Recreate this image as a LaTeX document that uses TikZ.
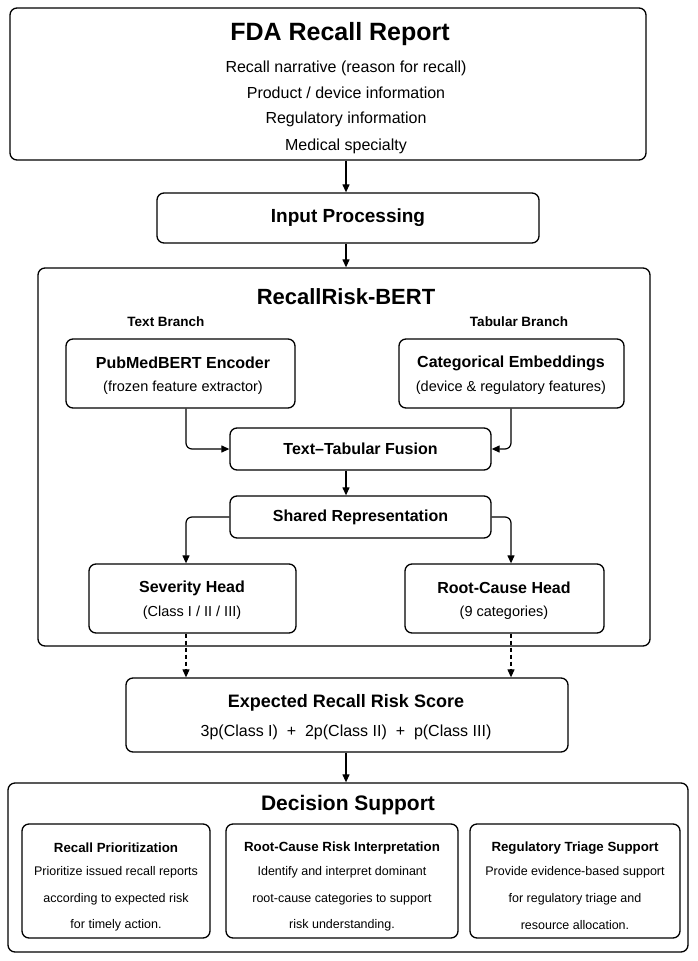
\documentclass[tikz,border=0pt]{standalone}
\usepackage{fontspec}
\setmainfont{Liberation Sans}
\usetikzlibrary{arrows.meta}
\begin{document}
\begin{tikzpicture}[x=1pt,y=-1pt,
  bx/.style={draw,line width=1.3pt,rounded corners=7pt},
  lbl/.style={inner sep=0pt,anchor=center},
  arr/.style={line width=1.2pt,-{Triangle[length=8pt,width=7pt]}},
  darr/.style={line width=1.1pt,dashed,dash pattern=on 4pt off 3pt,-{Triangle[length=8pt,width=7pt]}}]
\useasboundingbox (0,0) rectangle (698,961);
% FDA
\node[bx,minimum width=636pt,minimum height=152pt] (fda) at (328,84) {};
\node[lbl,font=\fontsize{25}{28}\selectfont\bfseries] (fdat) at (340,34) {FDA Recall Report};
\node[lbl,font=\fontsize{16}{19}\selectfont] (f1) at (346,68) {Recall narrative (reason for recall)};
\node[lbl,font=\fontsize{16}{19}\selectfont] (f2) at (346,93) {Product / device information};
\node[lbl,font=\fontsize{16}{19}\selectfont] (f3) at (346,119) {Regulatory information};
\node[lbl,font=\fontsize{16}{19}\selectfont] (f4) at (346,146) {Medical specialty};
% Input
\node[bx,minimum width=382pt,minimum height=50pt,font=\fontsize{19}{22}\selectfont\bfseries] (inp) at (348,218) {Input Processing};
% Container
\node[bx,minimum width=612pt,minimum height=378pt] (rb) at (344,457) {};
\node[lbl,font=\fontsize{22}{26}\selectfont\bfseries] (rbt) at (346,297) {RecallRisk-BERT};
\node[lbl,font=\fontsize{13.5}{15}\selectfont\bfseries] (tb) at (166,322) {Text Branch};
\node[lbl,font=\fontsize{13.5}{15}\selectfont\bfseries] (tab) at (519,322) {Tabular Branch};
\node[bx,minimum width=229pt,minimum height=69pt] (pm) at (180.5,373.5) {};
\node[lbl,font=\fontsize{16}{18}\selectfont\bfseries] at (183,363) {PubMedBERT Encoder};
\node[lbl,font=\fontsize{14.5}{16}\selectfont] at (183,388) {(frozen feature extractor)};
\node[bx,minimum width=225pt,minimum height=69pt] (ce) at (511.5,373.5) {};
\node[lbl,font=\fontsize{16}{18}\selectfont\bfseries] at (511,363) {Categorical Embeddings};
\node[lbl,font=\fontsize{14.5}{16}\selectfont] at (511,388) {(device \& regulatory features)};
\node[bx,minimum width=261pt,minimum height=42pt,font=\fontsize{16}{18}\selectfont\bfseries] (fu) at (360.5,449) {Text--Tabular Fusion};
\node[bx,minimum width=261pt,minimum height=42pt,font=\fontsize{16}{18}\selectfont\bfseries] (sh) at (360.5,517) {Shared Representation};
\node[bx,minimum width=207pt,minimum height=69pt] (sv) at (192.5,598.5) {};
\node[lbl,font=\fontsize{16}{18}\selectfont\bfseries] at (192,588) {Severity Head};
\node[lbl,font=\fontsize{14.5}{16}\selectfont] at (192,613) {(Class I / II / III)};
\node[bx,minimum width=199pt,minimum height=69pt] (rc) at (504.5,598.5) {};
\node[lbl,font=\fontsize{16}{18}\selectfont\bfseries] at (504,588) {Root-Cause Head};
\node[lbl,font=\fontsize{14.5}{16}\selectfont] at (504,613) {(9 categories)};
% Expected
\node[bx,minimum width=442pt,minimum height=74pt] (ex) at (347,715) {};
\node[lbl,font=\fontsize{18}{21}\selectfont\bfseries] at (346,703) {Expected Recall Risk Score};
\node[lbl,font=\fontsize{16}{19}\selectfont] at (346,732) {3p(Class I)\ \ +\ \ 2p(Class II)\ \ +\ \ p(Class III)};
% Decision
\node[bx,minimum width=680pt,minimum height=169pt] (ds) at (348,867.5) {};
\node[lbl,font=\fontsize{21}{24}\selectfont\bfseries] at (348,805) {Decision Support};
\node[bx,minimum width=188pt,minimum height=114pt] (d1) at (116,881) {};
\node[bx,minimum width=232pt,minimum height=114pt] (d2) at (342,881) {};
\node[bx,minimum width=210pt,minimum height=114pt] (d3) at (575,881) {};
\foreach \n/\x/\t/\a/\b/\c in {
  d1/116/Recall Prioritization/Prioritize issued recall reports/according to expected risk/for timely action.,
  d2/342/Root-Cause Risk Interpretation/Identify and interpret dominant/root-cause categories to support/risk understanding.,
  d3/575/Regulatory Triage Support/Provide evidence-based support/for regulatory triage and/resource allocation.}{
  \node[lbl,font=\fontsize{13.3}{15}\selectfont\bfseries] at (\x,848) {\t};
  \node[lbl,font=\fontsize{12.5}{14}\selectfont] at (\x,872) {\a};
  \node[lbl,font=\fontsize{12.5}{14}\selectfont] at (\x,899) {\b};
  \node[lbl,font=\fontsize{12.5}{14}\selectfont] at (\x,925) {\c};
}
% arrows
\draw[arr] (fda.south -| 346,0) -- (inp.north -| 346,0);
\draw[arr] (inp.south -| 346,0) -- (rb.north -| 346,0);
\draw[arr,rounded corners=6pt] (pm.south -| 186,0) |- (fu.west);
\draw[arr,rounded corners=6pt] (ce.south -| 511,0) |- (fu.east);
\draw[arr] (fu.south -| 346,0) -- (sh.north -| 346,0);
\draw[arr,rounded corners=6pt] (sh.west) -| (sv.north -| 186,0);
\draw[arr,rounded corners=6pt] (sh.east) -| (rc.north -| 511,0);
\draw[darr] (sv.south -| 186,0) -- (ex.north -| 186,0);
\draw[darr] (rc.south -| 511,0) -- (ex.north -| 511,0);
\draw[arr] (ex.south -| 346,0) -- (ds.north -| 346,0);
\end{tikzpicture}
\end{document}
